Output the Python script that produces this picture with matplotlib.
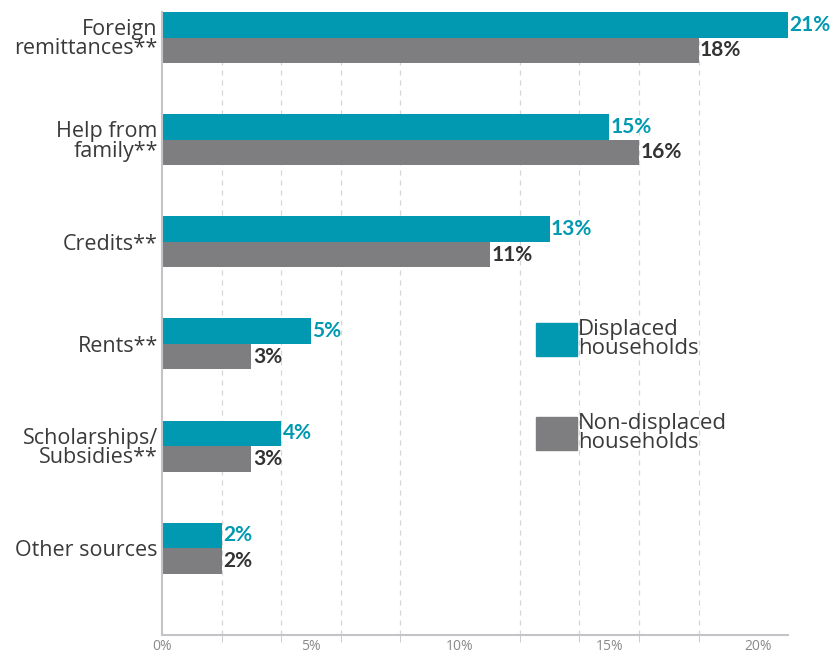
import numpy as np
import matplotlib.pyplot as plt
from matplotlib.patches import Patch

# income sources, share of households (%)
categories = ["Foreign\nremittances**", "Help from\nfamily**", "Credits**",
              "Rents**", "Scholarships/\nSubsidies**", "Other sources"]
displaced = [21, 15, 13, 5, 4, 2]
non_displaced = [18, 16, 11, 3, 3, 2]
xticks = [0, 5, 10, 15, 20]
xticklabels = ["0%", "5%", "10%", "15%", "20%"]

teal = "#0099b1"
grey = "#7e7e80"
axis_grey = "#c4c4c8"

plt.rcParams['font.family'] = ['Open Sans', 'DejaVu Sans']

fig = plt.figure(figsize=(8.32, 6.55), dpi=100)
ax = fig.add_axes([0.1947, 0.0305, 0.7524, 0.9512])

y = np.arange(len(categories))
h = 0.25
b1 = ax.barh(y - h / 2, displaced, height=h, color=teal)
b2 = ax.barh(y + h / 2, non_displaced, height=h, color=grey)

vfont = dict(fontsize=15, fontweight='bold', family=['Lato', 'DejaVu Sans'])
ax.bar_label(b1, labels=[f"{v}%" for v in displaced], padding=1,
             color=teal, **vfont)
ax.bar_label(b2, labels=[f"{v}%" for v in non_displaced], padding=1,
             color="#333333", **vfont)

ax.set_ylim(len(categories) - 0.15, -0.25)
ax.set_xlim(0, 21)
ax.set_yticks(y)
ax.set_yticklabels(categories, fontsize=15.5, color="#3a3a3a", linespacing=0.9)
ax.tick_params(axis='y', length=0, pad=3)

ax.set_xticks(xticks)
ax.set_xticklabels(xticklabels, fontsize=10, color="#8a8a8a")
ax.set_xticks(np.arange(0, 21, 2), minor=True)
ax.tick_params(axis='x', which='major', length=0, pad=3)
ax.tick_params(axis='x', which='minor', length=5, color=axis_grey)
ax.grid(axis='x', which='minor', linestyle=(0, (4, 4)), color="#d6d6d6", lw=0.9)
ax.set_axisbelow(True)

for s in ['top', 'right']:
    ax.spines[s].set_visible(False)
for s in ['left', 'bottom']:
    ax.spines[s].set_color(axis_grey)
    ax.spines[s].set_linewidth(1.5)

handles = [Patch(color=teal), Patch(color=grey)]
leg = ax.legend(handles, ["Displaced\nhouseholds", "Non-displaced\nhouseholds"],
                loc='upper left', bbox_to_anchor=(0.597, 0.507), frameon=False,
                prop={'size': 16}, handlelength=1.85, handleheight=1.9,
                handletextpad=0.05, labelspacing=2.45, borderpad=0,
                borderaxespad=0, labelcolor="#3a3a3a")
for t in leg.get_texts():
    t.set_linespacing(0.85)

fig.savefig("out.png", dpi=100)
